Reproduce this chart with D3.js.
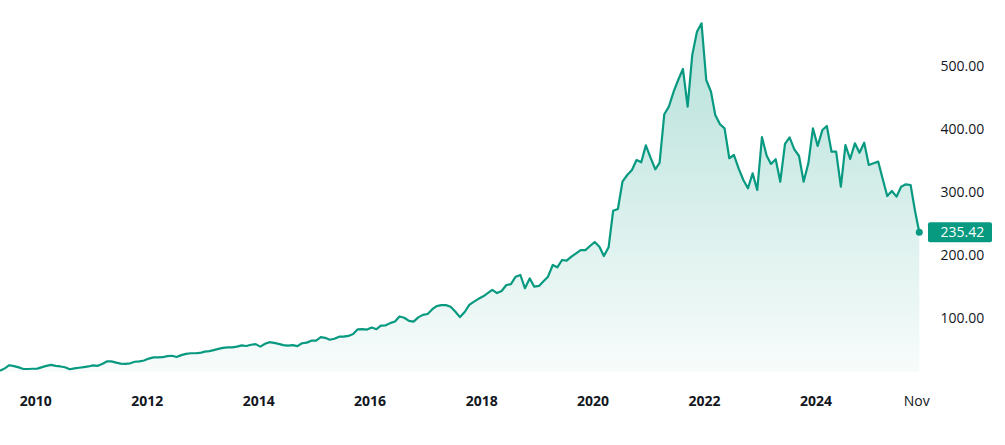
<!DOCTYPE html>
<html>
<head>
<meta charset="utf-8">
<script src="https://cdn.jsdelivr.net/npm/d3@7/dist/d3.min.js"></script>
<style>
  html, body { margin: 0; padding: 0; background: #ffffff; }
  svg { display: block; }
  text { font-family: "Open Sans", "Noto Sans", sans-serif; }
</style>
</head>
<body>
<svg id="chart" width="1005" height="445"></svg>
<script>
// ---- data (monthly closes, starting May 2009) ----
const startYear = 2009;
const startMonth = 4; // May (0-based)
const monthlyValues = [
  15, 19, 24, 22.5, 20.5, 18, 18, 18.4,                       // 2009 May-Dec
  18.5, 21, 23, 24.5, 23, 22, 20.7, 17.5, 19, 20, 21, 22,      // 2010
  23.8, 23, 26, 30, 30, 28, 26.5, 26, 27, 29.5, 30, 31.5,      // 2011
  34.5, 36.5, 36.5, 36.7, 38.5, 39, 37, 40, 42, 43, 43, 43.5,  // 2012
  45.5, 46.3, 48, 50, 51.5, 52.4, 52.4, 53.5, 55.5, 54.5, 56.5, 57.5, // 2013
  53.5, 58, 60.6, 59.4, 58, 56, 55, 56, 54.3, 58.9, 59.9, 63,  // 2014
  63, 68.5, 67.5, 64.5, 66, 69.3, 69.3, 70.5, 73.5, 81, 81.5, 80.7, // 2015
  84, 81.3, 86.8, 87.4, 90.9, 93.4, 101.5, 99.5, 94.5, 93.2, 100, 104, // 2016
  105.4, 113, 118, 119.5, 119.5, 117, 109.5, 100.5, 108.6, 120, 125, 129.5, // 2017
  133.5, 139, 143.7, 138.7, 142, 151.5, 153, 164.7, 167.4, 146.3, 162, 148.8, // 2018
  150, 157.9, 164.7, 183.3, 179.6, 191.3, 190.2, 196.5, 201.9, 207, 207, 213.5, // 2019
  219.9, 212.4, 197.6, 211.4, 269.6, 272.3, 315.7, 326.4, 334.3, 350.2, 346.6, 373.5, // 2020
  354, 335.4, 345.5, 423, 435, 458.8, 477.4, 495, 435, 517, 554, 567.6, // 2021
  477.4, 458.8, 421.8, 407, 400.6, 353, 358.2, 337, 318.4, 305.2, 329, 302.5, // 2022
  386.5, 357, 344, 351.5, 315.7, 375.7, 386.3, 367.2, 356.6, 315.7, 345, 400.6, // 2023
  372.5, 398, 404.3, 363.4, 363.4, 307.8, 374, 351.8, 376.8, 361.9, 377.8, 342.3, // 2024
  345, 347.6, 321.1, 293, 301, 292, 307.8, 311.6, 310.5, 268   // 2025 Jan-Oct
];
const lastDate = new Date(2025, 10, 11);
const lastValue = 235.42;

const xTickDates = [new Date(2010,0,1), new Date(2012,0,1), new Date(2014,0,1), new Date(2016,0,1),
                    new Date(2018,0,1), new Date(2020,0,1), new Date(2022,0,1), new Date(2024,0,1), new Date(2025,9,22)];
const xTickLabels = ["2010", "2012", "2014", "2016", "2018", "2020", "2022", "2024", "Nov"];
const xTickBold = [true, true, true, true, true, true, true, true, false];
const yTicks = [100, 200, 300, 400, 500];
const yTickLabels = ["100.00", "200.00", "300.00", "400.00", "500.00"];

// ---- build series ----
const series = monthlyValues.map((v, i) => ({ date: new Date(startYear, startMonth + i, 15), value: v }));
series.push({ date: lastDate, value: lastValue });

// ---- layout ----
const W = 1005, H = 445;
const plotLeft = 0, plotRight = 919.3, plotBottom = 372;
const color = "#089981";

const x = d3.scaleTime()
  .domain([series[0].date, lastDate])
  .range([plotLeft, plotRight]);
const y = d3.scaleLinear()
  .domain([0, 500])
  .range([380.3, 65.8]);

const svg = d3.select("#chart");
const defs = svg.append("defs");
const grad = defs.append("linearGradient")
  .attr("id", "areaGrad")
  .attr("gradientUnits", "userSpaceOnUse")
  .attr("x1", 0).attr("x2", 0)
  .attr("y1", y(d3.max(series, d => d.value)))
  .attr("y2", plotBottom);
grad.append("stop").attr("offset", "0%").attr("stop-color", color).attr("stop-opacity", 0.3);
grad.append("stop").attr("offset", "100%").attr("stop-color", color).attr("stop-opacity", 0.03);

const area = d3.area()
  .x(d => x(d.date))
  .y0(plotBottom)
  .y1(d => y(d.value));
const line = d3.line()
  .x(d => x(d.date))
  .y(d => y(d.value));

svg.append("path").datum(series)
  .attr("d", area)
  .attr("fill", "url(#areaGrad)");

svg.append("path").datum(series)
  .attr("d", line)
  .attr("fill", "none")
  .attr("stroke", color)
  .attr("stroke-width", 2.2)
  .attr("stroke-linejoin", "round");

// end dot
svg.append("circle")
  .attr("cx", x(lastDate)).attr("cy", y(lastValue))
  .attr("r", 3.5).attr("fill", color);

// y axis labels
const yAxis = d3.axisRight(y).tickValues(yTicks).tickSize(0)
  .tickFormat((d, i) => yTickLabels[i]);
const yG = svg.append("g").attr("transform", "translate(936,0)").call(yAxis);
yG.select(".domain").remove();
yG.selectAll("text")
  .attr("x", 4.5)
  .attr("dy", "0.35em")
  .attr("fill", "#131722")
  .style("font-size", "14px")
  .style("font-family", "'Open Sans', 'Noto Sans', sans-serif");

// last value label
const lab = svg.append("g");
lab.append("rect")
  .attr("x", 928).attr("y", y(lastValue) - 10)
  .attr("width", 64).attr("height", 20)
  .attr("rx", 2).attr("fill", color);
lab.append("text")
  .attr("x", 940.5).attr("y", y(lastValue))
  .attr("dy", "0.35em")
  .attr("fill", "#ffffff")
  .style("font-size", "14px")
  .text(d3.format(".2f")(lastValue));

// x axis labels
const xAxis = d3.axisBottom(x).tickValues(xTickDates).tickSize(0)
  .tickFormat((d, i) => xTickLabels[i]);
const xG = svg.append("g").attr("transform", "translate(0,396)").call(xAxis);
xG.select(".domain").remove();
xG.selectAll("text")
  .attr("y", 0)
  .attr("dy", "0.71em")
  .attr("fill", "#131722")
  .style("font-size", "14px")
  .style("font-family", "'Open Sans', 'Noto Sans', sans-serif")
  .style("font-weight", (d, i) => xTickBold[i] ? "700" : "400");
</script>
</body>
</html>
